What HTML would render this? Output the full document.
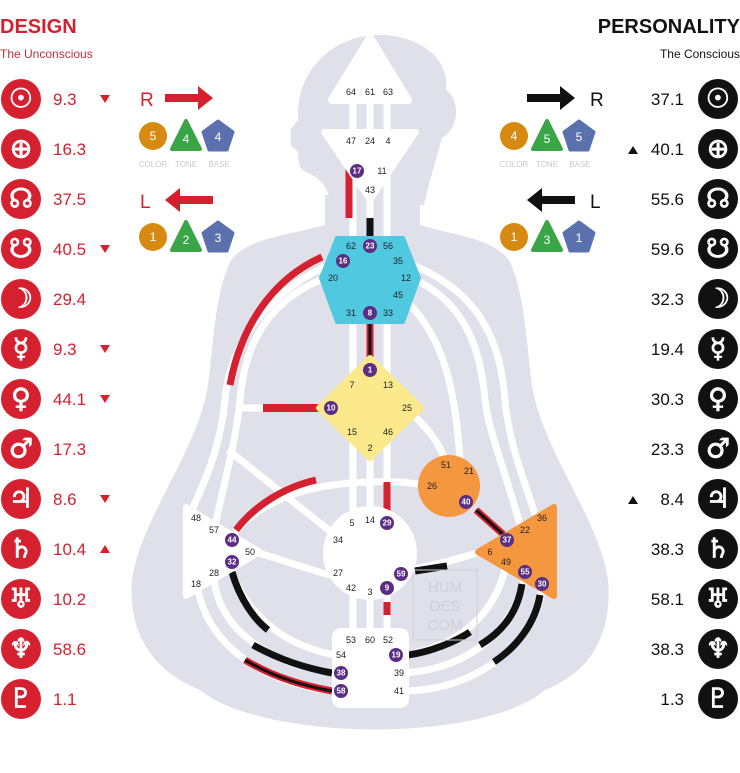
<!DOCTYPE html>
<html><head><meta charset="utf-8"><style>
html,body{margin:0;padding:0;background:#fff;}
svg{display:block;font-family:"Liberation Sans","DejaVu Sans",sans-serif;}
.n{font-size:9px;fill:#222;text-anchor:middle;dominant-baseline:central;}
.p{font-size:8px;fill:#fff;text-anchor:middle;dominant-baseline:central;font-weight:bold;}
.g{font-family:"DejaVu Sans",sans-serif;font-size:27px;fill:#fff;stroke:#fff;stroke-width:0.8;text-anchor:middle;dominant-baseline:central;}
.vl{font-size:17px;fill:#d5202f;}
.vr{font-size:17px;fill:#111;text-anchor:end;}
.lab{font-size:8px;fill:#c8c8cc;text-anchor:middle;}
.ct{font-size:12px;fill:#fff;text-anchor:middle;dominant-baseline:central;}
</style></head><body>
<svg width="740" height="773" viewBox="0 0 740 773">
<path fill="#dfe0ea" d="M325,195 L325,225 C290,235 245,238 230,262 C215,295 214,340 208,385 C198,450 140,520 132,580 C128,630 150,670 200,690 C260,740 480,745 545,690 C595,670 612,630 608,580 C600,520 542,450 532,385 C526,340 525,295 510,262 C495,238 452,235 420,225 L420,195 Z"/>
<path fill="#dfe0ea" d="M298,120 C295,70 335,32 385,35 C425,38 450,62 446,90 C460,98 460,128 442,138 C436,160 428,185 424,205 L330,210 C332,192 322,178 306,172 C296,168 300,158 297,150 C286,146 293,136 290,130 Z"/>
<g fill="none" stroke="#fff" stroke-width="7" stroke-linecap="butt">
<path d="M353,100V130 M370,100V130 M387,100V130"/>
<path d="M353,160V240 M370,190V240 M387,160V240"/>
<path d="M353,320V380 M370,320V370 M387,320V380"/>
<path d="M353,430V520 M370,450V520 M387,430V520"/>
<path d="M353,590V640 M370,595V640 M387,590V640"/>
<path d="M335,262 C270,290 230,340 225,400 C220,450 205,480 192,510"/>
<path d="M325,278 C270,300 245,340 240,400 C236,440 225,480 215,525"/>
<path d="M240,408 H330"/>
<path d="M228,450 L335,535"/>
<path d="M232,535 C270,490 330,480 400,482 L440,486"/>
<path d="M255,552 C290,562 310,570 330,575"/>
<path d="M405,262 C480,290 500,340 505,400 C510,450 525,480 535,515"/>
<path d="M412,278 C460,300 480,340 485,400 C488,430 505,470 520,525"/>
<path d="M400,295 C440,330 455,380 460,460"/>
<path d="M408,410 C430,430 440,445 445,460"/>
<path d="M410,570 C430,566 455,560 480,552"/>
<path d="M232,572 C245,610 280,645 335,655"/>
<path d="M214,580 C220,630 270,665 335,673"/>
<path d="M198,590 C210,650 270,685 335,691"/>
<path d="M405,655 C460,645 495,615 506,565"/>
<path d="M405,673 C470,668 515,630 525,575"/>
<path d="M405,691 C480,690 535,640 542,590"/>
</g>
<g fill="none" stroke-linecap="butt">
<path d="M349,165V218" stroke="#d5202f" stroke-width="7"/>
<path d="M370,218V238" stroke="#111" stroke-width="7"/>
<path d="M370,322V362" stroke="#d5202f" stroke-width="7"/><path d="M370,322V362" stroke="#111" stroke-width="3"/>
<path d="M322,257 C270,280 240,330 230,385" stroke="#d5202f" stroke-width="7"/>
<path d="M263,408H326" stroke="#d5202f" stroke-width="8"/>
<path d="M387,482V512" stroke="#d5202f" stroke-width="7"/>
<path d="M387,602V615" stroke="#d5202f" stroke-width="7"/>
<path d="M236,530 C255,505 285,487 316,480" stroke="#d5202f" stroke-width="7"/>
<path d="M415,571 L447,566" stroke="#111" stroke-width="7"/>
<path d="M476,510 L505,536" stroke="#d5202f" stroke-width="7"/><path d="M476,510 L505,536" stroke="#111" stroke-width="3"/>
<path d="M232,572 C240,600 255,620 268,630" stroke="#111" stroke-width="7"/>
<path d="M253,645 C280,660 305,668 332,673" stroke="#111" stroke-width="7"/>
<path d="M245,660 C275,678 305,686 332,691" stroke="#d5202f" stroke-width="7"/><path d="M245,660 C275,678 305,686 332,691" stroke="#111" stroke-width="3"/>
<path d="M408,655 C430,652 455,642 470,632" stroke="#111" stroke-width="7"/>
<path d="M522,584 C518,610 505,630 480,645" stroke="#111" stroke-width="7"/>
<path d="M540,595 C535,625 515,648 494,662" stroke="#111" stroke-width="7"/>
</g>
<rect x="413" y="570" width="64" height="70" fill="none" stroke="#cfcfd8" stroke-width="1"/>
<text x="445" y="592" font-size="15" fill="#cfcfd8" text-anchor="middle">HUM</text>
<text x="445" y="611" font-size="15" fill="#cfcfd8" text-anchor="middle">DES</text>
<text x="445" y="630" font-size="15" fill="#cfcfd8" text-anchor="middle">COM</text>
<path d="M370,38 L408,100 L332,100 Z" fill="#fff" stroke="#fff" stroke-width="8" stroke-linejoin="round"/>
<path d="M324,132 L416,132 L370,200 Z" fill="#fff" stroke="#fff" stroke-width="6" stroke-linejoin="round"/>
<path d="M337,238 L403,238 L419,278 L403,322 L337,322 L321,278 Z" fill="#50c8df" stroke="#50c8df" stroke-width="4" stroke-linejoin="round"/>
<path d="M370,358 L421,408 L370,458 L319,408 Z" fill="#fbe98b" stroke="#fbe98b" stroke-width="6" stroke-linejoin="round"/>
<circle cx="449" cy="486" r="31" fill="#f4973f"/>
<path d="M186,507 L260,552 L186,596 Z" fill="#fff" stroke="#fff" stroke-width="6" stroke-linejoin="round"/>
<path d="M554,507 L478,552 L554,596 Z" fill="#f4973f" stroke="#f4973f" stroke-width="6" stroke-linejoin="round"/>
<circle cx="370" cy="553" r="47" fill="#fff"/>
<rect x="332" y="628" width="77" height="80" rx="9" fill="#fff"/>
<g>
<text class="n" x="351" y="92">64</text><text class="n" x="370" y="92">61</text><text class="n" x="388" y="92">63</text>
<text class="n" x="351" y="141">47</text><text class="n" x="370" y="141">24</text><text class="n" x="388" y="141">4</text>
<text class="n" x="382" y="171">11</text><text class="n" x="370" y="190">43</text>
<text class="n" x="351" y="246">62</text><text class="n" x="388" y="246">56</text><text class="n" x="398" y="261">35</text>
<text class="n" x="333" y="278">20</text><text class="n" x="406" y="278">12</text><text class="n" x="398" y="295">45</text>
<text class="n" x="351" y="313">31</text><text class="n" x="388" y="313">33</text>
<text class="n" x="352" y="385">7</text><text class="n" x="388" y="385">13</text><text class="n" x="407" y="408">25</text>
<text class="n" x="352" y="432">15</text><text class="n" x="388" y="432">46</text><text class="n" x="370" y="448">2</text>
<text class="n" x="446" y="465">51</text><text class="n" x="469" y="471">21</text><text class="n" x="432" y="486">26</text>
<text class="n" x="196" y="518">48</text><text class="n" x="214" y="530">57</text><text class="n" x="250" y="552">50</text><text class="n" x="214" y="573">28</text><text class="n" x="196" y="584">18</text>
<text class="n" x="542" y="518">36</text><text class="n" x="525" y="530">22</text><text class="n" x="490" y="552">6</text><text class="n" x="506" y="562">49</text>
<text class="n" x="352" y="523">5</text><text class="n" x="370" y="520">14</text><text class="n" x="338" y="540">34</text><text class="n" x="338" y="573">27</text><text class="n" x="351" y="588">42</text><text class="n" x="370" y="592">3</text>
<text class="n" x="351" y="640">53</text><text class="n" x="370" y="640">60</text><text class="n" x="388" y="640">52</text><text class="n" x="341" y="655">54</text><text class="n" x="399" y="673">39</text><text class="n" x="399" y="691">41</text>
</g>
<g fill="#5b2d84">
<circle cx="357" cy="171" r="7"/><circle cx="370" cy="246" r="7"/><circle cx="343" cy="261" r="7"/><circle cx="370" cy="313" r="7"/>
<circle cx="370" cy="370" r="7"/><circle cx="331" cy="408" r="7"/><circle cx="466" cy="502" r="7"/>
<circle cx="232" cy="540" r="7"/><circle cx="232" cy="562" r="7"/>
<circle cx="507" cy="540" r="7"/><circle cx="525" cy="572" r="7"/><circle cx="542" cy="584" r="7"/>
<circle cx="387" cy="523" r="7"/><circle cx="401" cy="574" r="7"/><circle cx="387" cy="588" r="7"/>
<circle cx="396" cy="655" r="7"/><circle cx="341" cy="673" r="7"/><circle cx="341" cy="691" r="7"/>
</g>
<g>
<text class="p" x="357" y="171">17</text><text class="p" x="370" y="246">23</text><text class="p" x="343" y="261">16</text><text class="p" x="370" y="313">8</text>
<text class="p" x="370" y="370">1</text><text class="p" x="331" y="408">10</text><text class="p" x="466" y="502">40</text>
<text class="p" x="232" y="540">44</text><text class="p" x="232" y="562">32</text>
<text class="p" x="507" y="540">37</text><text class="p" x="525" y="572">55</text><text class="p" x="542" y="584">30</text>
<text class="p" x="387" y="523">29</text><text class="p" x="401" y="574">59</text><text class="p" x="387" y="588">9</text>
<text class="p" x="396" y="655">19</text><text class="p" x="341" y="673">38</text><text class="p" x="341" y="691">58</text>
</g>
<text x="0" y="33" font-size="20" font-weight="bold" fill="#d5202f">DESIGN</text>
<text x="0" y="58" font-size="12" fill="#c0303a">The Unconscious</text>
<text x="740" y="33" font-size="20" font-weight="bold" fill="#111" text-anchor="end">PERSONALITY</text>
<text x="740" y="58" font-size="12" fill="#111" text-anchor="end">The Conscious</text>
<g fill="#d5202f">
<circle cx="21" cy="99" r="20"/><circle cx="21" cy="149" r="20"/><circle cx="21" cy="199" r="20"/><circle cx="21" cy="249" r="20"/><circle cx="21" cy="299" r="20"/><circle cx="21" cy="349" r="20"/><circle cx="21" cy="399" r="20"/><circle cx="21" cy="449" r="20"/><circle cx="21" cy="499" r="20"/><circle cx="21" cy="549" r="20"/><circle cx="21" cy="599" r="20"/><circle cx="21" cy="649" r="20"/><circle cx="21" cy="699" r="20"/>
</g>
<g fill="#111">
<circle cx="718" cy="99" r="20"/><circle cx="718" cy="149" r="20"/><circle cx="718" cy="199" r="20"/><circle cx="718" cy="249" r="20"/><circle cx="718" cy="299" r="20"/><circle cx="718" cy="349" r="20"/><circle cx="718" cy="399" r="20"/><circle cx="718" cy="449" r="20"/><circle cx="718" cy="499" r="20"/><circle cx="718" cy="549" r="20"/><circle cx="718" cy="599" r="20"/><circle cx="718" cy="649" r="20"/><circle cx="718" cy="699" r="20"/>
</g>
<g>
<text class="g" x="21" y="99">☉</text><text class="g" x="21" y="149">⊕</text><text class="g" x="21" y="199">☊</text><text class="g" x="21" y="249">☋</text><text class="g" x="21" y="299">☽</text><text class="g" x="21" y="349">☿</text><text class="g" x="21" y="399">♀</text><text class="g" x="21" y="449">♂</text><text class="g" x="21" y="499">♃</text><text class="g" x="21" y="549">♄</text><text class="g" x="21" y="599">♅</text><text class="g" x="21" y="649">♆</text><text class="g" x="21" y="699">♇</text>
<text class="g" x="718" y="99">☉</text><text class="g" x="718" y="149">⊕</text><text class="g" x="718" y="199">☊</text><text class="g" x="718" y="249">☋</text><text class="g" x="718" y="299">☽</text><text class="g" x="718" y="349">☿</text><text class="g" x="718" y="399">♀</text><text class="g" x="718" y="449">♂</text><text class="g" x="718" y="499">♃</text><text class="g" x="718" y="549">♄</text><text class="g" x="718" y="599">♅</text><text class="g" x="718" y="649">♆</text><text class="g" x="718" y="699">♇</text>
</g>
<g>
<text class="vl" x="53" y="105">9.3</text><text class="vl" x="53" y="155">16.3</text><text class="vl" x="53" y="205">37.5</text><text class="vl" x="53" y="255">40.5</text><text class="vl" x="53" y="305">29.4</text><text class="vl" x="53" y="355">9.3</text><text class="vl" x="53" y="405">44.1</text><text class="vl" x="53" y="455">17.3</text><text class="vl" x="53" y="505">8.6</text><text class="vl" x="53" y="555">10.4</text><text class="vl" x="53" y="605">10.2</text><text class="vl" x="53" y="655">58.6</text><text class="vl" x="53" y="705">1.1</text>
</g>
<g fill="#d5202f">
<path d="M100,95h10l-5,8z"/><path d="M100,245h10l-5,8z"/><path d="M100,345h10l-5,8z"/><path d="M100,395h10l-5,8z"/><path d="M100,495h10l-5,8z"/><path d="M100,553h10l-5,-8z"/>
</g>
<g>
<text class="vr" x="684" y="105">37.1</text><text class="vr" x="684" y="155">40.1</text><text class="vr" x="684" y="205">55.6</text><text class="vr" x="684" y="255">59.6</text><text class="vr" x="684" y="305">32.3</text><text class="vr" x="684" y="355">19.4</text><text class="vr" x="684" y="405">30.3</text><text class="vr" x="684" y="455">23.3</text><text class="vr" x="684" y="505">8.4</text><text class="vr" x="684" y="555">38.3</text><text class="vr" x="684" y="605">58.1</text><text class="vr" x="684" y="655">38.3</text><text class="vr" x="684" y="705">1.3</text>
</g>
<g fill="#111"><path d="M628,154h10l-5,-8z"/><path d="M628,504h10l-5,-8z"/></g>
<text x="140" y="106" font-size="19" fill="#d5202f">R</text>
<path d="M165,94h33v-8l15,12l-15,12v-8h-33z" fill="#d5202f"/>
<text x="140" y="208" font-size="19" fill="#d5202f">L</text>
<path d="M213,196h-33v-8l-15,12l15,12v-8h33z" fill="#d5202f"/>
<text x="590" y="106" font-size="19" fill="#111">R</text>
<path d="M527,94h33v-8l15,12l-15,12v-8h-33z" fill="#111"/>
<text x="590" y="208" font-size="19" fill="#111">L</text>
<path d="M575,196h-33v-8l-15,12l15,12v-8h33z" fill="#111"/>
<g>
<circle cx="153" cy="136" r="14" fill="#d68a12"/><path d="M186,121 L200,149 L172,149 Z" fill="#3aa547" stroke="#3aa547" stroke-width="4" stroke-linejoin="round"/><path d="M218,121 L233,132 L227,150 L209,150 L203,132 Z" fill="#5b71ad" stroke="#5b71ad" stroke-width="3" stroke-linejoin="round"/>
<text class="ct" x="153" y="136">5</text><text class="ct" x="186" y="139">4</text><text class="ct" x="218" y="137">4</text>
<text class="lab" x="153" y="167">COLOR</text><text class="lab" x="186" y="167">TONE</text><text class="lab" x="219" y="167">BASE</text>
<circle cx="153" cy="237" r="14" fill="#d68a12"/><path d="M186,222 L200,250 L172,250 Z" fill="#3aa547" stroke="#3aa547" stroke-width="4" stroke-linejoin="round"/><path d="M218,222 L233,233 L227,251 L209,251 L203,233 Z" fill="#5b71ad" stroke="#5b71ad" stroke-width="3" stroke-linejoin="round"/>
<text class="ct" x="153" y="237">1</text><text class="ct" x="186" y="240">2</text><text class="ct" x="218" y="238">3</text>
<circle cx="514" cy="136" r="14" fill="#d68a12"/><path d="M547,121 L561,149 L533,149 Z" fill="#3aa547" stroke="#3aa547" stroke-width="4" stroke-linejoin="round"/><path d="M579,121 L594,132 L588,150 L570,150 L564,132 Z" fill="#5b71ad" stroke="#5b71ad" stroke-width="3" stroke-linejoin="round"/>
<text class="ct" x="514" y="136">4</text><text class="ct" x="547" y="139">5</text><text class="ct" x="579" y="137">5</text>
<text class="lab" x="514" y="167">COLOR</text><text class="lab" x="547" y="167">TONE</text><text class="lab" x="580" y="167">BASE</text>
<circle cx="514" cy="237" r="14" fill="#d68a12"/><path d="M547,222 L561,250 L533,250 Z" fill="#3aa547" stroke="#3aa547" stroke-width="4" stroke-linejoin="round"/><path d="M579,222 L594,233 L588,251 L570,251 L564,233 Z" fill="#5b71ad" stroke="#5b71ad" stroke-width="3" stroke-linejoin="round"/>
<text class="ct" x="514" y="237">1</text><text class="ct" x="547" y="240">3</text><text class="ct" x="579" y="238">1</text>
</g>
</svg>
</body></html>
